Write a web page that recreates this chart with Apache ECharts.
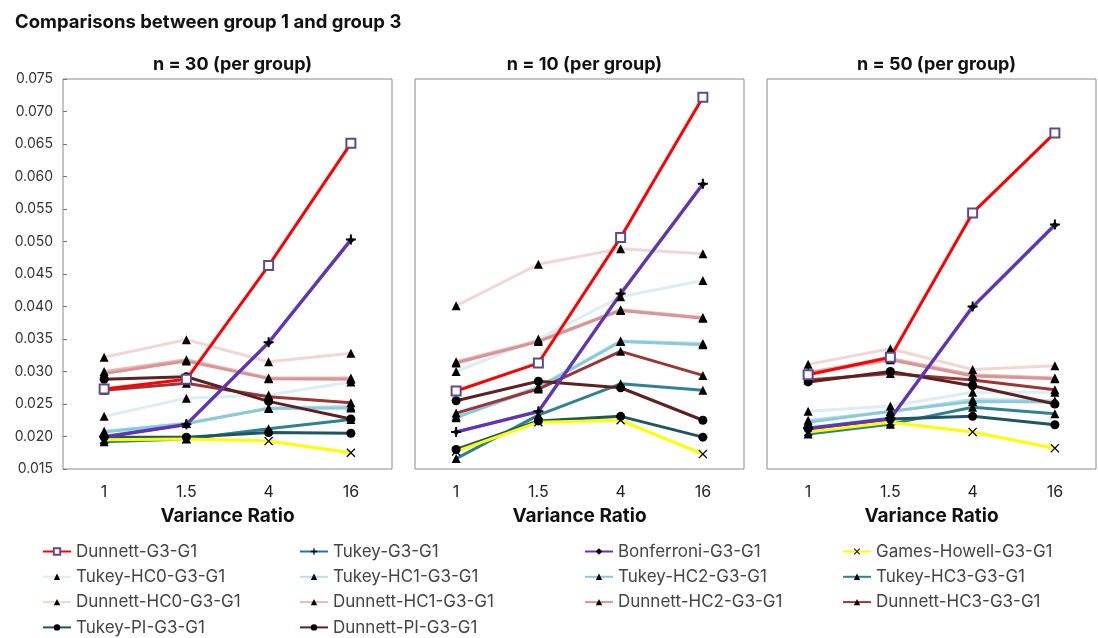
<!DOCTYPE html>
<html>
<head>
<meta charset="utf-8">
<script src="https://cdn.jsdelivr.net/npm/echarts@6/dist/echarts.min.js"></script>
<style>
  html, body { margin: 0; padding: 0; background: #fff; }
  #chart { width: 1098px; height: 638px; }
</style>
</head>
<body>
<div id="chart"></div>
<script>
// x categories and panel titles
const ratios = ['1', '1.5', '4', '16'];
const panelTitles = ['n = 30 (per group)', 'n = 10 (per group)', 'n = 50 (per group)'];
const yTicks = { min: 0.015, max: 0.075, step: 0.005 };

// each method: [n=30, n=10, n=50], values at ratio 1, 1.5, 4, 16
const dunnett      = [[0.0273, 0.0288, 0.0463, 0.0651], [0.0270, 0.0313, 0.0506, 0.0722], [0.0295, 0.0322, 0.0544, 0.0667]];
const tukey        = [[0.0200, 0.0219, 0.0345, 0.0503], [0.0207, 0.0239, 0.0420, 0.0589], [0.0213, 0.0228, 0.0400, 0.0526]];
const bonferroni   = [[0.0199, 0.0218, 0.0344, 0.0502], [0.0207, 0.0238, 0.0419, 0.0588], [0.0212, 0.0227, 0.0399, 0.0525]];
const gamesHowell  = [[0.0195, 0.0196, 0.0193, 0.0175], [0.0177, 0.0222, 0.0225, 0.0173], [0.0207, 0.0222, 0.0207, 0.0182]];
const tukeyHC0     = [[0.0231, 0.0259, 0.0264, 0.0284], [0.0300, 0.0350, 0.0415, 0.0440], [0.0239, 0.0247, 0.0268, 0.0268]];
const tukeyHC1     = [[0.0208, 0.0220, 0.0244, 0.0246], [0.0231, 0.0277, 0.0347, 0.0343], [0.0225, 0.0238, 0.0257, 0.0255]];
const tukeyHC2     = [[0.0207, 0.0220, 0.0243, 0.0244], [0.0229, 0.0275, 0.0346, 0.0341], [0.0222, 0.0239, 0.0254, 0.0253]];
const tukeyHC3     = [[0.0192, 0.0196, 0.0212, 0.0226], [0.0166, 0.0233, 0.0281, 0.0271], [0.0204, 0.0219, 0.0245, 0.0235]];
const dunnettHC0   = [[0.0322, 0.0349, 0.0315, 0.0328], [0.0401, 0.0465, 0.0489, 0.0481], [0.0311, 0.0335, 0.0303, 0.0309]];
const dunnettHC1   = [[0.0300, 0.0318, 0.0290, 0.0290], [0.0315, 0.0347, 0.0395, 0.0383], [0.0299, 0.0320, 0.0295, 0.0290]];
const dunnettHC2   = [[0.0297, 0.0316, 0.0289, 0.0288], [0.0313, 0.0346, 0.0394, 0.0382], [0.0297, 0.0318, 0.0293, 0.0289]];
const dunnettHC3   = [[0.0271, 0.0282, 0.0261, 0.0252], [0.0236, 0.0273, 0.0331, 0.0294], [0.0287, 0.0297, 0.0287, 0.0272]];
const tukeyPI      = [[0.0199, 0.0199, 0.0206, 0.0205], [0.0180, 0.0224, 0.0231, 0.0199], [0.0212, 0.0227, 0.0231, 0.0218]];
const dunnettPI    = [[0.0288, 0.0292, 0.0254, 0.0227], [0.0255, 0.0285, 0.0275, 0.0225], [0.0284, 0.0300, 0.0278, 0.0250]];

const plusPath = 'path://M4,0h2v4h4v2h-4v4h-2v-4h-4v-2h4z';
const crossPath = 'path://M1,0L5,4L9,0L10,1L6,5L10,9L9,10L5,6L1,10L0,9L4,5L0,1Z';

// drawing order: first = bottom
const methods = [
    { name: 'Dunnett-HC0-G3-G1', data: dunnettHC0, color: '#f2d6d6', symbol: 'triangle', size: 9 },
    { name: 'Tukey-HC0-G3-G1', data: tukeyHC0, color: '#dcedf3', symbol: 'triangle', size: 9 },
    { name: 'Dunnett-HC1-G3-G1', data: dunnettHC1, color: '#e7b9b9', symbol: 'triangle', size: 9 },
    { name: 'Dunnett-HC2-G3-G1', data: dunnettHC2, color: '#d99595', symbol: 'triangle', size: 9 },
    { name: 'Tukey-HC1-G3-G1', data: tukeyHC1, color: '#b9dfea', symbol: 'triangle', size: 9 },
    { name: 'Tukey-HC2-G3-G1', data: tukeyHC2, color: '#8ccadb', symbol: 'triangle', size: 9 },
    { name: 'Dunnett-HC3-G3-G1', data: dunnettHC3, color: '#9a3636', symbol: 'triangle', size: 9 },
    { name: 'Tukey-HC3-G3-G1', data: tukeyHC3, color: '#2f8294', symbol: 'triangle', size: 9 },
    { name: 'Tukey-PI-G3-G1', data: tukeyPI, color: '#1f5560', symbol: 'circle', size: 9 },
    { name: 'Dunnett-PI-G3-G1', data: dunnettPI, color: '#5c2222', symbol: 'circle', size: 9 },
    { name: 'Games-Howell-G3-G1', data: gamesHowell, color: '#ffff00', symbol: crossPath, size: 9 },
    { name: 'Tukey-G3-G1', data: tukey, color: '#1a73c9', symbol: plusPath, size: 10 },
    { name: 'Bonferroni-G3-G1', data: bonferroni, color: '#6b30b0', symbol: 'diamond', size: 7 },
    { name: 'Dunnett-G3-G1', data: dunnett, color: '#ff0000', symbol: 'emptyRect', size: 9 }
];

const legendCols = [
    ['Dunnett-G3-G1', 'Tukey-HC0-G3-G1', 'Dunnett-HC0-G3-G1', 'Tukey-PI-G3-G1'],
    ['Tukey-G3-G1', 'Tukey-HC1-G3-G1', 'Dunnett-HC1-G3-G1', 'Dunnett-PI-G3-G1'],
    ['Bonferroni-G3-G1', 'Tukey-HC2-G3-G1', 'Dunnett-HC2-G3-G1'],
    ['Games-Howell-G3-G1', 'Tukey-HC3-G3-G1', 'Dunnett-HC3-G3-G1']
];
const legendLeft = [42, 299, 584, 842];
const panelLeft = [63, 415, 767];
const panelWidth = 329;

const font = 'Inter, "Helvetica Neue", Arial, sans-serif';

let myChart = echarts.init(document.getElementById('chart'));

let grids = [], xAxes = [], yAxes = [], titles = [], series = [];

titles.push({
    text: 'Comparisons between group 1 and group 3',
    left: 10,
    top: 8,
    textStyle: { fontSize: 18.5, fontWeight: 'bold', color: '#111', fontFamily: font }
});

panelLeft.forEach(function (left, p) {
    grids.push({
        left: left, top: 79, width: panelWidth, height: 390,
        show: true, borderColor: '#8a8a8a', borderWidth: 1, backgroundColor: 'transparent'
    });
    titles.push({
        text: panelTitles[p],
        left: left + panelWidth / 2,
        top: 51,
        textAlign: 'center',
        textStyle: { fontSize: 18, fontWeight: 'bold', color: '#111', fontFamily: font }
    });
    xAxes.push({
        type: 'category',
        gridIndex: p,
        data: ratios,
        boundaryGap: true,
        axisLine: { show: false },
        axisTick: { show: false },
        axisLabel: { fontSize: 16, color: '#222', margin: 15, fontFamily: font },
        name: 'Variance Ratio',
        nameLocation: 'middle',
        nameGap: 38,
        nameTextStyle: { fontSize: 19, fontWeight: 'bold', color: '#111', fontFamily: font }
    });
    yAxes.push({
        type: 'value',
        gridIndex: p,
        min: yTicks.min,
        max: yTicks.max,
        interval: yTicks.step,
        splitLine: { show: false },
        axisLine: { show: false },
        axisTick: { show: p === 0, inside: true, length: 4, lineStyle: { color: '#777' } },
        axisLabel: {
            show: p === 0, fontSize: 14, color: '#333', margin: 10, fontFamily: font,
            formatter: function (v) { return v.toFixed(3); }
        }
    });
    methods.forEach(function (m) {
        series.push({
            name: m.name,
            type: 'line',
            xAxisIndex: p,
            yAxisIndex: p,
            data: m.data[p],
            symbol: m.symbol,
            symbolSize: m.size,
            showAllSymbol: true,
            lineStyle: { color: m.color, width: 3 },
            itemStyle: m.symbol === 'emptyRect'
                ? { color: '#5e4a8c', borderWidth: 2.5 }
                : { color: '#000' },
            emphasis: { disabled: true },
            animation: false
        });
    });
});

let legends = legendCols.map(function (col, i) {
    return {
        data: col,
        orient: 'vertical',
        left: legendLeft[i],
        top: 543,
        height: 110,
        padding: 0,
        itemWidth: 28,
        itemHeight: 8,
        itemGap: 8.3,
        textStyle: { fontSize: 17, color: '#444', fontFamily: font }
    };
});

myChart.setOption({
    backgroundColor: '#fff',
    animation: false,
    title: titles,
    grid: grids,
    xAxis: xAxes,
    yAxis: yAxes,
    legend: legends,
    series: series
});
</script>
</body>
</html>
